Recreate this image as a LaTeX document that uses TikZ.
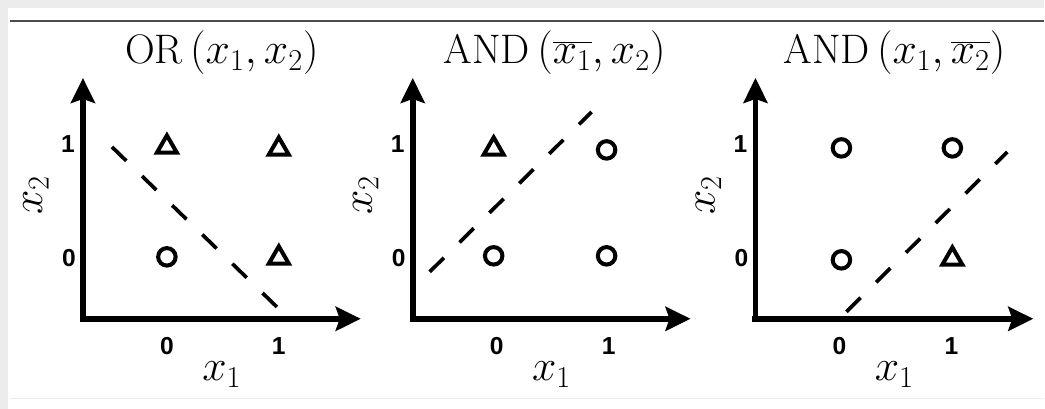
\documentclass[tikz,border=0pt]{standalone}
\usepackage{fontspec}
\newfontfamily\tickfont{Liberation Sans}
\usetikzlibrary{arrows.meta, shapes.geometric}

\begin{document}
\begin{tikzpicture}[x=0.02cm, y=-0.02cm,
    axis/.style={line width=3.4pt, -{Stealth[length=0.5cm, width=0.48cm, inset=0.08cm]}},
    split/.style={line width=2.1pt, dash pattern=on 0.4cm off 0.44cm},
    tick/.style={anchor=base, inner sep=0, font=\tickfont\bfseries\fontsize{14}{16}\selectfont},
    lab/.style={anchor=base, inner sep=0, font=\fontsize{23.5}{27}\selectfont},
    tri/.style={regular polygon, regular polygon sides=3, draw, line width=2.3pt, inner sep=0, minimum size=0.46cm},
    ring/.style={circle, draw, line width=2.3pt, inner sep=0, minimum size=0.35cm}
]
    % frame
    \fill[gray!15] (0,0) rectangle (1045,409);
    \fill[white] (8,8) rectangle (1045,409);
    \draw[black!70, line width=0.8pt] (10,21) -- (1045,21);
    \draw[black!8, line width=0.6pt] (10,399) -- (1045,399);

    % axes and tick labels
    \foreach \p/\dx in {1/0, 2/330, 3/673} {
        \coordinate (yb\p) at (83+\dx,322);
        \coordinate (yt\p) at (83+\dx,78);
        \coordinate (xl\p) at (80+\dx,319);
        \coordinate (xr\p) at (361+\dx,319);
        \draw[axis] (yb\p) -- (yt\p);
        \draw[axis] (xl\p) -- (xr\p);
        \node[tick] (xz\p) at (167+\dx,355) {0};
        \node[tick] (xo\p) at (279+\dx,355) {1};
        \node[tick] (yz\p) at (69+\dx,267) {0};
        \node[tick] (yo\p) at (68+\dx,153) {1};
        \node[lab] (xlab\p) at (222+\dx,381) {$x_1$};
        \node[font=\fontsize{23.5}{27}\selectfont, rotate=90, inner sep=0] (ylab\p) at (36+\dx,195) {$x_2$};
    }

    % titles
    \node[lab] (title1) at (222,64) {OR$\,(x_1,x_2)$};
    \node[lab] (title2) at (555,64) {AND$\,(\overline{x_1},x_2)$};
    \node[lab] (title3) at (895,64) {AND$\,(x_1,\overline{x_2})$};

    % OR
    \node[tri] (a11) at (167,147) {};
    \node[tri] (a21) at (279,149) {};
    \node[ring] (a00) at (167,257) {};
    \node[tri] (a10) at (279,258) {};
    \coordinate (s1a) at (112,147);
    \coordinate (s1b) at (280,310);
    \draw[split] (s1a) -- (s1b);

    % AND (not x1, x2)
    \node[tri] (b01) at (494,149) {};
    \node[ring] (b11) at (607,150) {};
    \node[ring] (b00) at (494,256) {};
    \node[ring] (b10) at (607,256) {};
    \coordinate (s2a) at (430,272);
    \coordinate (s2b) at (592,112);
    \draw[split] (s2a) -- (s2b);

    % AND (x1, not x2)
    \node[ring] (c01) at (842,148) {};
    \node[ring] (c11) at (953,148) {};
    \node[ring] (c00) at (842,260) {};
    \node[tri] (c10) at (953,259) {};
    \coordinate (s3a) at (847,312);
    \coordinate (s3b) at (1008,152);
    \draw[split] (s3a) -- (s3b);
\end{tikzpicture}
\end{document}
